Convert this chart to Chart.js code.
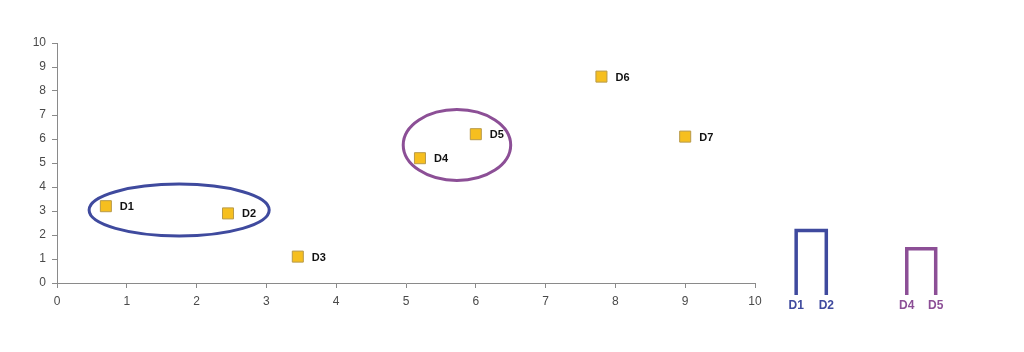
<!DOCTYPE html>
<html>
<head>
<meta charset="utf-8">
<script src="https://cdn.jsdelivr.net/npm/chart.js@4/dist/chart.umd.min.js"></script>
<style>
  body { margin: 0; background: #fff; }
  #wrap { position: relative; width: 1024px; height: 352px; }
  #scatterChart { position: absolute; left: 0; top: 0; }
  #dendroChart { position: absolute; left: 760px; top: 190px; }
</style>
</head>
<body>
<div id="wrap">
  <canvas id="scatterChart" width="1024" height="352"></canvas>
  <canvas id="dendroChart" width="220" height="130"></canvas>
</div>
<script>
// points
var pointNames = ['D1', 'D2', 'D3', 'D4', 'D5', 'D6', 'D7'];
var pointX = [0.7, 2.45, 3.45, 5.2, 6.0, 7.8, 9.0];
var pointY = [3.2, 2.9, 1.1, 5.2, 6.2, 8.6, 6.1];

// cluster ellipses (data units)
var clusterCx = [1.75, 5.73];
var clusterCy = [3.04, 5.75];
var clusterRx = [1.29, 0.77];
var clusterRy = [1.08, 1.48];
var clusterColors = ['#3f4a9e', '#8c4f96'];

// dendrogram: leaves and merge heights
var leafNames = ['D1', 'D2', 'D4', 'D5'];
var leafX = [0, 1, 3.67, 4.63];
var leafColors = ['#3f4a9e', '#3f4a9e', '#8c4f96', '#8c4f96'];
var mergeHeights = [1.78, 1.28];

var axisColor = '#8a8a8a';
var tickColor = '#4a4a4a';
var fontFamily = "'Liberation Sans', Arial, sans-serif";

var scatterData = [];
for (var i = 0; i < pointX.length; i++) {
    scatterData.push({ x: pointX[i], y: pointY[i] });
}

var pointLabels = {
    id: 'pointLabels',
    afterDatasetsDraw: function (chart) {
        var ctx = chart.ctx;
        var meta = chart.getDatasetMeta(0);
        ctx.save();
        ctx.font = 'bold 11px ' + fontFamily;
        ctx.fillStyle = '#111';
        ctx.textAlign = 'left';
        ctx.textBaseline = 'middle';
        meta.data.forEach(function (pt, i) {
            ctx.fillText(pointNames[i], pt.x + 14, pt.y + 1);
        });
        ctx.restore();
    }
};

var clusterEllipses = {
    id: 'clusterEllipses',
    afterDatasetsDraw: function (chart) {
        var ctx = chart.ctx;
        var xs = chart.scales.x;
        var ys = chart.scales.y;
        ctx.save();
        ctx.lineWidth = 3;
        for (var i = 0; i < clusterCx.length; i++) {
            var cx = xs.getPixelForValue(clusterCx[i]);
            var cy = ys.getPixelForValue(clusterCy[i]);
            var rx = Math.abs(xs.getPixelForValue(clusterCx[i] + clusterRx[i]) - cx);
            var ry = Math.abs(ys.getPixelForValue(clusterCy[i] + clusterRy[i]) - cy);
            ctx.strokeStyle = clusterColors[i];
            ctx.beginPath();
            ctx.ellipse(cx, cy, rx, ry, 0, 0, Math.PI * 2);
            ctx.stroke();
        }
        ctx.restore();
    }
};

var scatterCtx = document.getElementById('scatterChart').getContext('2d');
var scatterChart = new Chart(scatterCtx, {
    type: 'scatter',
    data: {
        datasets: [{
            data: scatterData,
            pointStyle: 'rect',
            pointRadius: 7.8,
            pointHoverRadius: 7.8,
            backgroundColor: '#f6bf1f',
            borderColor: '#b89a4a',
            borderWidth: 1
        }]
    },
    options: {
        responsive: false,
        animation: false,
        events: [],
        layout: { padding: { top: 43, right: 269, bottom: 0, left: 0 } },
        plugins: { legend: { display: false }, tooltip: { enabled: false } },
        scales: {
            x: {
                type: 'linear',
                min: 0, max: 10,
                afterFit: function (scale) { scale.height = 69; },
                border: { display: true, color: axisColor, width: 1 },
                grid: { display: true, drawOnChartArea: false, drawTicks: true, tickLength: 5, color: axisColor },
                ticks: { stepSize: 1, color: tickColor, padding: 6, font: { size: 12, family: fontFamily } }
            },
            y: {
                min: 0, max: 10,
                afterFit: function (scale) { scale.width = 57; },
                border: { display: true, color: axisColor, width: 1 },
                grid: { display: true, drawOnChartArea: false, drawTicks: true, tickLength: 5, color: axisColor },
                ticks: { stepSize: 1, color: tickColor, padding: 6, font: { size: 12, family: fontFamily } }
            }
        }
    },
    plugins: [clusterEllipses, pointLabels]
});

// dendrogram next to the plot
var dendroSets = [];
for (var k = 0; k < mergeHeights.length; k++) {
    var a = leafX[k * 2], b = leafX[k * 2 + 1];
    dendroSets.push({
        data: [{ x: a, y: 0 }, { x: a, y: mergeHeights[k] }, { x: b, y: mergeHeights[k] }, { x: b, y: 0 }],
        borderColor: clusterColors[k],
        borderWidth: 3.5,
        pointRadius: 0,
        tension: 0,
        fill: false
    });
}

var dendroCtx = document.getElementById('dendroChart').getContext('2d');
var dendroChart = new Chart(dendroCtx, {
    type: 'line',
    data: { datasets: dendroSets },
    options: {
        responsive: false,
        animation: false,
        events: [],
        layout: { padding: 0 },
        plugins: { legend: { display: false }, tooltip: { enabled: false } },
        scales: {
            x: {
                type: 'linear',
                min: -1.2, max: 6.1,
                afterBuildTicks: function (scale) {
                    scale.ticks = leafX.map(function (v) { return { value: v }; });
                },
                afterFit: function (scale) { scale.height = 25; },
                border: { display: false },
                grid: { display: false, drawTicks: false },
                ticks: {
                    autoSkip: false,
                    maxRotation: 0,
                    padding: 3,
                    callback: function (value, index) { return leafNames[index]; },
                    color: function (c) { return leafColors[c.index]; },
                    font: { size: 12, weight: 'bold', family: fontFamily }
                }
            },
            y: { display: false, min: 0, max: 2.9 }
        }
    }
});
</script>
</body>
</html>
